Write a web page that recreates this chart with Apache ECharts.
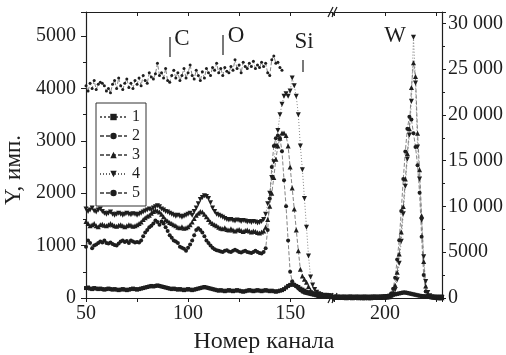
<!DOCTYPE html>
<html>
<head>
<meta charset="utf-8">
<script src="https://cdn.jsdelivr.net/npm/echarts@6/dist/echarts.min.js"></script>
<style>
  html, body { margin: 0; padding: 0; background: #fff; }
  #chart { width: 506px; height: 355px; }
</style>
</head>
<body>
<div id="chart"></div>
<script>
// channels 50..171 (left part), 175..228 (after the axis break)
var chLeft = []
for (var c = 50; c <= 171; c++) chLeft.push(c)
var chRight = []
for (var c2 = 175; c2 <= 228; c2++) chRight.push(c2)
var chTop = chLeft.slice(0, 97) // 50..146

// left part, left axis (Y, имп.)
var s1Left = [
  190, 200, 180, 170, 190, 180, 170, 180, 170, 160,
  170, 180, 170, 160, 170, 160, 150, 160, 170, 160,
  150, 160, 170, 180, 170, 160, 170, 180, 190, 200,
  210, 220, 230, 220, 230, 240, 230, 220, 210, 200,
  190, 180, 170, 180, 170, 160, 170, 160, 150, 160,
  170, 160, 150, 160, 170, 180, 190, 200, 210, 200,
  190, 180, 170, 160, 150, 140, 150, 140, 130, 140,
  150, 140, 130, 140, 150, 140, 130, 120, 130, 140,
  150, 140, 130, 140, 150, 140, 130, 140, 150, 140,
  130, 140, 130, 120, 130, 140, 150, 170, 200, 230,
  250, 260, 250, 230, 210, 180, 160, 140, 120, 110,
  100, 90, 80, 80, 70, 70, 60, 60, 60, 50,
  50, 50
]
var s2Left = [
  980, 1100, 1050, 950, 1000, 1020, 1050, 1080, 1060, 1100,
  1050, 1040, 1060, 1030, 1010, 1000, 1040, 1080, 1100, 1070,
  1090, 1050, 1100, 1080, 1060, 1070, 1060, 1100, 1180, 1250,
  1300, 1350, 1380, 1420, 1480, 1450, 1400, 1460, 1420, 1350,
  1280, 1200, 1150, 1100, 1080, 1050, 980, 960, 940, 900,
  960, 1020, 1100, 1200, 1300, 1330, 1300, 1250, 1180, 1100,
  1050, 1000, 960, 930, 910, 900, 890, 880, 900, 910,
  890, 880, 900, 920, 900, 880, 870, 890, 900, 880,
  870, 860, 880, 900, 880, 860, 850, 880, 950, 1300,
  1900, 2500, 2900, 3050, 3100, 3050, 2800, 2250, 1750, 1100,
  500, 320, 260, 220, 180, 150, 120, 100, 90, 80,
  70, 60, 55, 50, 45, 40, 40, 35, 35, 30,
  30, 30
]
var s3Left = [
  1460, 1420, 1380, 1400, 1420, 1380, 1360, 1400, 1410, 1390,
  1380, 1400, 1420, 1400, 1380, 1370, 1390, 1400, 1380, 1360,
  1380, 1400, 1390, 1370, 1380, 1400, 1420, 1450, 1500, 1530,
  1560, 1580, 1620, 1650, 1680, 1660, 1640, 1600, 1550, 1500,
  1470, 1440, 1420, 1400, 1380, 1350, 1340, 1360, 1330, 1340,
  1360, 1400, 1450, 1520, 1580, 1620, 1650, 1640, 1600, 1550,
  1500, 1450, 1420, 1400, 1380, 1350, 1330, 1320, 1340, 1310,
  1300, 1320, 1300, 1280, 1300, 1310, 1290, 1270, 1290, 1300,
  1280, 1260, 1280, 1270, 1250, 1240, 1260, 1280, 1350, 1500,
  1750, 2000, 2300, 2650, 2900, 3050, 3150, 3150, 3100, 2900,
  2500, 2100, 1700, 1300, 900, 550, 420, 360, 300, 220,
  150, 110, 80, 60, 50, 45, 40, 40, 35, 35,
  30, 30
]
var s4Left = [
  1700, 1650, 1680, 1720, 1660, 1640, 1680, 1700, 1650, 1620,
  1600, 1620, 1640, 1600, 1580, 1600, 1620, 1600, 1580, 1600,
  1620, 1600, 1590, 1610, 1600, 1580, 1600, 1620, 1640, 1660,
  1680, 1700, 1680, 1720, 1740, 1760, 1740, 1700, 1680, 1650,
  1640, 1620, 1600, 1580, 1560, 1580, 1560, 1540, 1560, 1580,
  1600, 1620, 1580, 1650, 1720, 1800, 1880, 1920, 1950, 1940,
  1900, 1820, 1720, 1650, 1600, 1580, 1560, 1540, 1520, 1500,
  1490, 1500, 1480, 1470, 1490, 1480, 1460, 1480, 1470, 1450,
  1460, 1440, 1460, 1450, 1430, 1440, 1460, 1500, 1600, 1800,
  2000, 2300, 2600, 2900, 3200, 3500, 3700, 3850, 3900, 3850,
  3950, 4200, 4050, 3850, 3500, 2900, 2450, 1900, 1350, 800,
  400, 250, 160, 110, 80, 60, 50, 45, 40, 40,
  35, 35
]
var s5Left = [
  4050, 3950, 4100, 4000, 4150, 3980, 4080, 4120, 4100, 4050,
  3950, 4000, 3920, 4080, 4150, 4000, 4200, 4050, 3980, 4100,
  4180, 4020, 4100, 4000, 4150, 4080, 4200, 4050, 4250, 4150,
  4100, 4300, 4220, 4180, 4280, 4480, 4250, 4300, 4200, 4380,
  4150, 4120, 4250, 4350, 4200, 4300, 4150, 4250, 4380, 4200,
  4300, 4450, 4250, 4180, 4350, 4250, 4150, 4320, 4200, 4380,
  4300, 4250, 4400, 4350, 4480, 4300, 4380, 4250, 4400, 4330,
  4300, 4420, 4350, 4550, 4380, 4450, 4300, 4500, 4420, 4380,
  4480, 4420, 4520, 4380, 4450, 4400, 4500, 4420, 4480, 4300,
  4250, 4550, 4620, 4480, 4500, 4400, 4350
]

// right part, right axis
var s1Right = [
  160, 150, 170, 140, 150, 160, 140, 150, 170, 150,
  140, 160, 150, 140, 150, 160, 150, 140, 150, 160,
  170, 150, 160, 170, 180, 200, 220, 250, 300, 350,
  400, 450, 500, 550, 600, 600, 550, 500, 450, 400,
  350, 300, 250, 220, 200, 180, 170, 160, 150, 150,
  140, 150, 140, 150
]
var s2Right = [
  80, 70, 90, 60, 80, 70, 60, 80, 70, 60,
  70, 80, 60, 70, 60, 50, 70, 60, 50, 60,
  70, 60, 80, 70, 90, 100, 150, 250, 500, 1000,
  2200, 4200, 6300, 9500, 13000, 16000, 18500, 19800, 19500, 18000,
  16500, 14500, 11500, 6700, 2500, 700, 250, 120, 80, 60,
  50, 50, 40, 40
]
var s3Right = [
  60, 50, 70, 50, 60, 50, 40, 60, 50, 40,
  50, 60, 40, 50, 40, 40, 50, 40, 40, 50,
  60, 50, 60, 60, 70, 80, 100, 150, 300, 600,
  1400, 2800, 4800, 7200, 10000, 13000, 15800, 18500, 23000, 25700,
  24200, 18000, 14000, 9000, 4000, 1300, 450, 180, 100, 70,
  50, 40, 40, 30
]
var s4Right = [
  40, 50, 40, 30, 40, 50, 40, 30, 40, 30,
  40, 50, 40, 30, 40, 30, 40, 30, 40, 40,
  50, 40, 50, 50, 60, 70, 80, 120, 200, 400,
  900, 2000, 3800, 6200, 9200, 12200, 15200, 17800, 21500, 28500,
  23500, 16500, 13000, 8500, 4500, 1800, 600, 250, 120, 80,
  60, 50, 40, 40
]

var xTicks = [50, 100, 150, 200]
var leftTicks = [0, 1000, 2000, 3000, 4000, 5000]
var rightTicks = [0, 5000, 10000, 15000, 20000, 25000, 30000]

function pairs(xs, ys) {
  return ys.map(function(v, i) { return [xs[i], v] })
}

var font = 'Liberation Serif'
var ink = '#1e1e1e'
var axisLine = { lineStyle: { color: ink, width: 1.2 } }

var styles = [
  { name: '1', symbol: 'rect', size: 4, dash: [2, 2] },
  { name: '2', symbol: 'circle', size: 4, dash: [4, 2] },
  { name: '3', symbol: 'triangle', size: 5, dash: [4, 2] },
  { name: '4', symbol: 'path://M0,0L10,0L5,9Z', size: 5, dash: [1, 2] },
  { name: '5', symbol: 'circle', size: 3, dash: [4, 2] }
]
var leftData = [s1Left, s2Left, s3Left, s4Left]
var rightData = [s1Right, s2Right, s3Right, s4Right]

function makeSeries(st, data, idx) {
  return {
    name: st.name,
    type: 'line',
    xAxisIndex: idx,
    yAxisIndex: idx,
    data: data,
    symbol: st.symbol,
    symbolSize: st.size,
    showSymbol: true,
    itemStyle: { color: ink },
    lineStyle: { color: '#666', width: 0.8, type: st.dash },
    emphasis: { disabled: true },
    animation: false
  }
}

var series = []
for (var i = 0; i < 4; i++) {
  series.push(makeSeries(styles[i], pairs(chLeft, leftData[i]), 0))
}
series.push(makeSeries(styles[4], pairs(chTop, s5Left), 0))
for (var j = 0; j < 4; j++) {
  series.push(makeSeries(styles[j], pairs(chRight, rightData[j]), 1))
}

function fmtRight(v) {
  if (rightTicks.indexOf(v) < 0) return ''
  var s = String(v)
  return v >= 10000 ? s.slice(0, s.length - 3) + ' ' + s.slice(-3) : s
}

function xAxisOf(grid, min, max, pos) {
  var top = pos === 'top'
  return {
    type: 'value', gridIndex: grid, position: pos, min: min, max: max, interval: 25,
    axisLine: axisLine,
    axisTick: { inside: top, length: 4, lineStyle: { color: ink, width: 1 } },
    axisLabel: {
      show: !top, margin: 6, fontFamily: font, fontSize: 20, color: ink,
      formatter: function(v) { return xTicks.indexOf(v) >= 0 ? String(v) : '' }
    },
    splitLine: { show: false }
  }
}

var chart = echarts.init(document.getElementById('chart'))
chart.setOption({
  backgroundColor: '#fff',
  animation: false,
  grid: [
    { left: 86, top: 12, width: 246, height: 286 },
    { left: 334, top: 12, width: 108, height: 286 }
  ],
  xAxis: [
    xAxisOf(0, 50, 170.5, 'bottom'),
    xAxisOf(1, 175, 228, 'bottom'),
    xAxisOf(0, 50, 170.5, 'top'),
    xAxisOf(1, 175, 228, 'top')
  ],
  yAxis: [
    {
      type: 'value', gridIndex: 0, position: 'left', min: 0, max: 5460, interval: 1000,
      axisLine: { show: true, lineStyle: axisLine.lineStyle },
      axisTick: { show: true, length: 5, lineStyle: { color: ink } },
      minorTick: { show: true, splitNumber: 2, length: 3, lineStyle: { color: ink } },
      axisLabel: {
        margin: 10, fontFamily: font, fontSize: 20, color: ink,
        formatter: function(v) { return leftTicks.indexOf(v) >= 0 ? String(v) : '' }
      },
      splitLine: { show: false }
    },
    {
      type: 'value', gridIndex: 1, position: 'right', min: 0, max: 31250, interval: 5000,
      axisLine: { show: true, lineStyle: axisLine.lineStyle },
      axisTick: { show: true, length: 4, lineStyle: { color: ink } },
      minorTick: { show: true, splitNumber: 2, length: 3, lineStyle: { color: ink } },
      axisLabel: { margin: 6, fontFamily: font, fontSize: 20, color: ink, formatter: fmtRight },
      splitLine: { show: false }
    }
  ],
  legend: {
    data: ['1', '2', '3', '4', '5'],
    orient: 'vertical',
    left: 96,
    top: 103,
    itemWidth: 27,
    itemHeight: 8,
    itemGap: 3,
    padding: [6, 6, 5, 3],
    borderColor: '#333',
    borderWidth: 1,
    selectedMode: false,
    textStyle: { fontFamily: font, fontSize: 16, color: ink, lineHeight: 16 }
  },
  graphic: [
    { type: 'text', x: 14, y: 170, rotation: Math.PI / 2,
      style: { text: 'Y, имп.', font: '23px ' + font, fill: ink, textAlign: 'center', textVerticalAlign: 'middle' } },
    { type: 'text', x: 264, y: 342,
      style: { text: 'Номер канала', font: '24px ' + font, fill: ink, textAlign: 'center', textVerticalAlign: 'middle' } },
    { type: 'text', x: 182, y: 39, style: { text: 'C', font: '23px ' + font, fill: ink, textAlign: 'center', textVerticalAlign: 'middle' } },
    { type: 'text', x: 236, y: 36, style: { text: 'O', font: '23px ' + font, fill: ink, textAlign: 'center', textVerticalAlign: 'middle' } },
    { type: 'text', x: 304, y: 42, style: { text: 'Si', font: '23px ' + font, fill: ink, textAlign: 'center', textVerticalAlign: 'middle' } },
    { type: 'text', x: 395, y: 36, style: { text: 'W', font: '23px ' + font, fill: ink, textAlign: 'center', textVerticalAlign: 'middle' } },
    { type: 'line', shape: { x1: 170, y1: 37, x2: 170, y2: 57 }, style: { stroke: ink, lineWidth: 1.2 } },
    { type: 'line', shape: { x1: 223, y1: 35, x2: 223, y2: 55 }, style: { stroke: ink, lineWidth: 1.2 } },
    { type: 'line', shape: { x1: 303, y1: 60, x2: 303, y2: 72 }, style: { stroke: ink, lineWidth: 1.2 } },
    // axis break marks
    { type: 'line', shape: { x1: 328, y1: 17, x2: 333, y2: 7 }, style: { stroke: ink, lineWidth: 1.2 } },
    { type: 'line', shape: { x1: 332, y1: 17, x2: 337, y2: 7 }, style: { stroke: ink, lineWidth: 1.2 } },
    { type: 'line', shape: { x1: 328, y1: 303, x2: 333, y2: 293 }, style: { stroke: ink, lineWidth: 1.2 } },
    { type: 'line', shape: { x1: 332, y1: 303, x2: 337, y2: 293 }, style: { stroke: ink, lineWidth: 1.2 } }
  ],
  series: series
})
</script>
</body>
</html>
